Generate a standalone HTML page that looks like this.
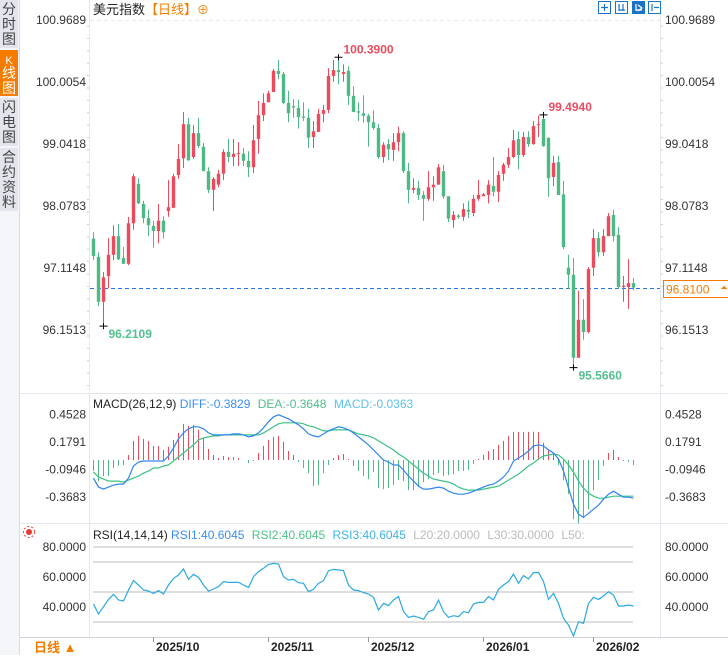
<!DOCTYPE html>
<html><head><meta charset="utf-8"><style>
html,body{margin:0;padding:0;background:#fff;}
body{width:728px;height:655px;overflow:hidden;position:relative;font-family:"Liberation Sans","Noto Sans CJK SC",sans-serif;}
svg text{font-family:"Liberation Sans","Noto Sans CJK SC",sans-serif;}
</style></head><body>
<svg id="chart" width="728" height="655" viewBox="0 0 728 655" xmlns="http://www.w3.org/2000/svg">
<g>
<rect x="0" y="0" width="19" height="655" fill="#f4f5f8"/>
<rect x="0" y="0" width="18" height="48" fill="#e3e5ec"/>
<text x="9" y="14" font-size="14" text-anchor="middle" fill="#444">分</text><text x="9" y="29" font-size="14" text-anchor="middle" fill="#444">时</text><text x="9" y="44" font-size="14" text-anchor="middle" fill="#444">图</text>
<rect x="0" y="50" width="18" height="46" fill="#f57c00"/>
<text x="9" y="64" font-size="11" text-anchor="middle" fill="#fff">K</text><text x="9" y="78" font-size="14" text-anchor="middle" fill="#fff">线</text><text x="9" y="93" font-size="14" text-anchor="middle" fill="#fff">图</text>
<rect x="0" y="98" width="18" height="48" fill="#e3e5ec"/>
<text x="9" y="112" font-size="14" text-anchor="middle" fill="#444">闪</text><text x="9" y="127" font-size="14" text-anchor="middle" fill="#444">电</text><text x="9" y="142" font-size="14" text-anchor="middle" fill="#444">图</text>
<rect x="0" y="148" width="18" height="63" fill="#e3e5ec"/>
<text x="9" y="162" font-size="14" text-anchor="middle" fill="#444">合</text><text x="9" y="177" font-size="14" text-anchor="middle" fill="#444">约</text><text x="9" y="192" font-size="14" text-anchor="middle" fill="#444">资</text><text x="9" y="207" font-size="14" text-anchor="middle" fill="#444">料</text>
<line x1="19.5" y1="0" x2="19.5" y2="655" stroke="#d8dbe2"/>
</g>
<line x1="89.5" y1="0" x2="89.5" y2="637" stroke="#e4e8ee"/>
<line x1="660.5" y1="0" x2="660.5" y2="637" stroke="#e4e8ee"/>
<line x1="90" y1="20.5" x2="660" y2="20.5" stroke="#e4e8ee" stroke-dasharray="4,3"/>
<line x1="20" y1="393.5" x2="728" y2="393.5" stroke="#e4e8ee"/>
<line x1="20" y1="523.5" x2="728" y2="523.5" stroke="#e4e8ee"/>
<line x1="20" y1="637.5" x2="728" y2="637.5" stroke="#d0d4da"/>
<text x="93" y="14" font-size="13" fill="#222">美元指数<tspan fill="#f57c00">【日线】</tspan><tspan fill="#f57c00" font-size="12">⊕</tspan></text>
<g>
<rect x="598.5" y="1.5" width="12" height="12" fill="#fff" stroke="#1a73c8"/>
<rect x="615.5" y="1.5" width="12" height="12" fill="#fff" stroke="#1a73c8"/>
<rect x="632.5" y="1.5" width="12" height="12" fill="#1a73c8" stroke="#1a73c8"/>
<rect x="648.5" y="1.5" width="12" height="12" fill="#fff" stroke="#1a73c8"/>
<path d="M604.5 4v7M601 7.5h7M619 4v7M619 10h6M623 4v7M652 4v7M654 7.5h5" stroke="#1a73c8" stroke-width="1.2" fill="none"/>
<path d="M636 4v7M636 10h6M638 5l4 3-4 3" stroke="#fff" stroke-width="1.2" fill="none"/>
</g>
<g id="axes"></g>
<g id="candles"></g>
<g id="macd"></g>
<g id="rsi"></g>
<g id="xaxis"></g>
<text x="93" y="408" font-size="12" fill="#222">MACD(26,12,9) <tspan fill="#3a8ef0">DIFF:-0.3829</tspan>  <tspan fill="#4cc08a" dx="4">DEA:-0.3648</tspan> <tspan fill="#5bc0eb" dx="4">MACD:-0.0363</tspan></text>
<text x="93" y="539" font-size="12" fill="#222">RSI(14,14,14) <tspan fill="#3a8ef0">RSI1:40.6045</tspan> <tspan fill="#4cc08a" dx="4">RSI2:40.6045</tspan> <tspan fill="#3bb3e6" dx="4">RSI3:40.6045</tspan> <tspan fill="#bbb" dx="4">L20:20.0000</tspan> <tspan fill="#bbb" dx="4">L30:30.0000</tspan> <tspan fill="#bbb" dx="4">L50:</tspan></text>
<g><circle cx="29" cy="532" r="3" fill="#e53935"/><circle cx="29" cy="532" r="5.5" fill="none" stroke="#e53935" stroke-dasharray="2,2"/></g>
<g>
<rect x="20" y="638" width="69" height="17" fill="#fff"/>
<text x="34" y="652" font-size="13" font-weight="bold" fill="#f57c00">日线 ▲</text>
</g>
</svg>
<script>
const opens=[97.57,97.29,96.59,96.99,97.32,97.61,97.27,97.18,97.81,98.42,98.11,97.89,97.77,97.69,97.85,98.00,98.05,98.56,98.82,99.35,98.84,99.21,99.00,98.62,98.33,98.41,98.58,98.92,98.84,98.89,98.89,98.78,98.68,99.12,99.49,99.69,99.85,100.18,100.13,99.68,99.63,99.60,99.47,99.45,99.15,99.23,99.51,99.57,100.10,100.19,100.13,100.18,99.79,99.55,99.52,99.48,99.38,99.29,98.84,99.04,98.95,99.07,99.21,98.62,98.33,98.36,98.25,98.19,98.37,98.41,98.62,98.23,97.86,97.93,97.91,98.02,97.97,98.19,98.23,98.25,98.39,98.30,98.58,98.72,98.84,99.12,98.87,99.15,99.04,99.34,99.43,99.14,98.53,98.76,98.26,97.12,97.01,95.72,96.31,96.12,97.12,97.58,97.36,97.61,97.94,97.63,96.82,96.82,96.88];
const closes=[97.30,96.59,96.97,97.32,97.61,97.25,97.18,97.81,98.54,98.12,97.89,97.78,97.69,97.85,97.67,98.06,98.54,98.81,99.35,98.79,99.21,99.01,98.62,98.33,98.50,98.58,98.92,98.84,98.89,98.90,98.78,98.68,99.10,99.49,99.68,99.83,100.18,100.13,99.68,99.52,99.61,99.46,99.45,99.14,99.24,99.51,99.57,100.10,100.19,100.16,100.16,99.79,99.54,99.53,99.48,99.38,99.29,98.84,99.03,98.96,99.07,99.21,98.62,98.33,98.36,98.25,98.19,98.37,98.41,98.68,98.23,97.88,97.94,97.91,98.03,97.99,98.19,98.25,98.26,98.41,98.30,98.56,98.72,98.84,99.10,98.87,99.15,99.04,99.32,99.35,99.01,98.51,98.75,98.25,97.44,97.01,95.72,96.31,96.12,97.10,97.58,97.36,97.61,97.92,97.61,96.82,96.84,96.88,96.81];
const highs=[97.67,97.36,97.05,97.58,97.78,97.80,97.44,97.91,98.58,98.51,98.16,98.02,97.85,98.11,97.92,98.48,98.58,99.04,99.54,99.45,99.34,99.45,99.06,98.68,98.53,98.64,98.96,99.12,99.12,99.07,98.98,98.93,99.34,99.71,99.83,99.87,100.21,100.35,100.16,99.87,99.74,99.73,99.69,99.59,99.40,99.59,99.65,100.22,100.35,100.39,100.28,100.25,99.94,99.69,99.80,99.51,99.56,99.35,99.07,99.12,99.21,99.31,99.24,98.75,98.51,98.47,98.31,98.62,98.54,98.73,98.72,98.23,98.00,97.95,98.12,98.16,98.25,98.48,98.28,98.48,98.84,98.62,98.75,98.98,99.26,99.24,99.23,99.24,99.40,99.48,99.494,99.14,98.86,98.86,98.47,97.32,97.27,96.76,96.63,97.13,97.72,97.67,97.72,97.97,98.02,97.75,96.99,97.25,96.96];
const lows=[97.24,96.52,96.2109,96.80,97.24,97.24,97.18,97.16,97.71,98.11,97.81,97.61,97.43,97.50,97.57,97.91,98.05,98.50,98.67,98.78,98.81,98.98,98.62,98.28,98.00,98.37,98.48,98.76,98.70,98.70,98.70,98.53,98.59,98.89,99.40,99.69,99.85,100.05,99.66,99.38,99.45,99.28,99.40,98.98,98.98,99.23,99.38,99.52,100.01,99.97,100.01,99.65,99.54,99.40,99.37,99.00,99.26,98.81,98.75,98.79,98.78,98.93,98.59,98.12,98.28,98.17,97.85,98.16,98.16,98.41,98.19,97.83,97.74,97.88,97.85,97.89,97.92,98.16,98.23,98.12,98.23,98.14,98.47,98.67,98.82,98.65,98.84,99.00,99.03,99.15,99.00,98.22,98.39,98.25,97.41,96.79,95.566,95.72,96.00,96.10,96.99,97.29,97.30,97.61,97.53,96.79,96.59,96.48,96.77];
const diffVals=[-0.18,-0.27,-0.29,-0.27,-0.25,-0.24,-0.24,-0.18,-0.06,-0.02,-0.01,-0.01,-0.01,-0.01,-0.01,0.04,0.12,0.21,0.27,0.31,0.33,0.33,0.31,0.27,0.25,0.25,0.25,0.25,0.26,0.26,0.25,0.23,0.24,0.27,0.32,0.38,0.43,0.45,0.43,0.41,0.38,0.35,0.31,0.26,0.24,0.23,0.26,0.29,0.31,0.33,0.32,0.30,0.27,0.23,0.19,0.15,0.10,0.05,0.00,-0.02,-0.05,-0.05,-0.10,-0.16,-0.21,-0.26,-0.29,-0.29,-0.28,-0.27,-0.28,-0.31,-0.33,-0.34,-0.34,-0.33,-0.31,-0.29,-0.27,-0.25,-0.24,-0.21,-0.17,-0.11,-0.01,0.02,0.05,0.09,0.14,0.15,0.14,0.10,0.07,0.01,-0.11,-0.28,-0.44,-0.54,-0.57,-0.53,-0.49,-0.45,-0.39,-0.34,-0.31,-0.34,-0.37,-0.37,-0.38];
const deaVals=[-0.12,-0.17,-0.19,-0.21,-0.21,-0.21,-0.22,-0.20,-0.18,-0.16,-0.13,-0.11,-0.08,-0.08,-0.06,-0.05,-0.01,0.03,0.07,0.11,0.15,0.20,0.22,0.23,0.24,0.24,0.25,0.25,0.25,0.25,0.25,0.25,0.25,0.25,0.27,0.30,0.33,0.36,0.37,0.37,0.37,0.37,0.36,0.34,0.33,0.31,0.29,0.29,0.30,0.30,0.30,0.30,0.28,0.26,0.25,0.24,0.22,0.19,0.16,0.13,0.10,0.06,0.03,-0.01,-0.05,-0.09,-0.13,-0.16,-0.19,-0.20,-0.21,-0.22,-0.24,-0.27,-0.29,-0.30,-0.30,-0.30,-0.29,-0.28,-0.27,-0.26,-0.23,-0.20,-0.17,-0.14,-0.10,-0.06,-0.03,0.01,0.04,0.05,0.06,0.05,0.01,-0.05,-0.12,-0.21,-0.28,-0.33,-0.36,-0.38,-0.38,-0.37,-0.36,-0.36,-0.36,-0.36,-0.36];
const histVals=[-0.11,-0.21,-0.16,-0.16,-0.08,-0.06,-0.05,0.05,0.19,0.24,0.21,0.19,0.14,0.14,0.10,0.13,0.20,0.27,0.36,0.34,0.35,0.30,0.22,0.11,0.05,0.02,0.04,0.03,0.03,0.02,0.00,-0.03,-0.01,0.07,0.14,0.20,0.23,0.24,0.18,0.09,0.05,-0.02,-0.08,-0.13,-0.26,-0.25,-0.13,-0.05,0.02,0.05,0.06,0.01,-0.06,-0.11,-0.16,-0.19,-0.12,-0.28,-0.29,-0.28,-0.25,-0.20,-0.21,-0.30,-0.30,-0.27,-0.22,-0.19,-0.15,-0.13,-0.16,-0.15,-0.14,-0.11,-0.11,-0.10,-0.04,0.01,0.05,0.09,0.11,0.15,0.19,0.24,0.28,0.28,0.28,0.28,0.28,0.28,0.17,0.10,0.06,-0.05,-0.20,-0.34,-0.59,-0.63,-0.58,-0.49,-0.30,-0.20,-0.06,0.07,0.10,0.03,-0.01,-0.02,-0.05];
const rsiVals=[42.0,35.3,40.2,45.1,48.4,44.7,44.0,51.3,57.6,54.7,51.3,50.7,49.1,50.9,48.7,54.7,59.1,61.3,65.3,58.4,61.8,59.8,54.7,50.7,52.0,53.6,56.9,56.4,56.4,56.4,54.7,53.1,60.2,63.6,65.8,68.4,69.1,68.7,60.2,58.0,58.4,56.2,55.8,50.2,51.8,55.8,57.6,64.2,65.1,64.7,64.2,54.7,51.3,50.9,49.6,48.7,46.4,38.0,42.4,40.9,44.7,46.9,36.9,33.1,34.0,33.1,31.8,36.9,38.0,44.7,36.9,33.1,34.2,33.6,36.9,36.2,42.0,43.1,43.1,46.9,44.7,51.8,54.7,56.9,62.0,55.8,60.9,58.7,62.9,63.1,56.9,45.1,49.1,42.4,32.4,28.0,20.7,30.2,29.1,42.4,46.4,45.1,47.3,50.2,48.0,40.7,40.7,41.3,40.7];
const priceTicks=[100.9689,100.0054,99.0418,98.0783,97.1148,96.1513];
const macdTicks=[0.4528,0.1791,-0.0946,-0.3683];
const rsiTicks=[80,60,40];
const rsiGrid=[80,70,50,30];
const monthLabels=["2025/10","2025/11","2025/12","2026/01","2026/02"];
const monthIdx=[12,35,55,78,100];
const lastPrice=96.81;

const NS="http://www.w3.org/2000/svg";
const RED="#ec4b5e",GREEN="#4fb985";
function X(i){return 93+5*i;}
function PY(p){return 20+(100.9689-p)*64.35;}
function MY(v){return 460-v*100.5;}
function RY(v){return 547+(80-v)*1.5;}
function mk(tag,attrs,parent,txt){const e=document.createElementNS(NS,tag);for(const k in attrs)e.setAttribute(k,attrs[k]);if(txt!==undefined)e.textContent=txt;parent.appendChild(e);return e;}

const ax=document.getElementById('axes');
priceTicks.forEach((t,k)=>{
  const y=PY(t);
  let l=mk('text',{x:86,y:y+4,'font-size':12,'text-anchor':'end',fill:'#333'},ax,t.toFixed(4));
  
  
  let r=mk('text',{x:665,y:y+4,'font-size':12,fill:'#333'},ax,t.toFixed(4));
  
  
});
for(let y=26;y<390;y+=12.4){mk('line',{x1:87,x2:89,y1:y,y2:y,stroke:'#ccc'},ax);mk('line',{x1:661,x2:663,y1:y,y2:y,stroke:'#ccc'},ax);}
macdTicks.forEach(t=>{
  const y=MY(t);
  let l=mk('text',{x:86,y:y+4,'font-size':12,'text-anchor':'end',fill:'#333'},ax,t.toFixed(4));
  
  
  let r=mk('text',{x:665,y:y+4,'font-size':12,fill:'#333'},ax,t.toFixed(4));
  
  
});
rsiGrid.forEach(v=>{const g=mk('line',{x1:93,x2:633,y1:RY(v),y2:RY(v),stroke:'#bdbdbd'},ax);
  
  });
rsiTicks.forEach(t=>{
  const y=RY(t);
  let l=mk('text',{x:86,y:y+4,'font-size':12,'text-anchor':'end',fill:'#333'},ax,t.toFixed(4));
  
  
  let r=mk('text',{x:665,y:y+4,'font-size':12,fill:'#333'},ax,t.toFixed(4));
  
  
});

const cg=document.getElementById('candles');
const ly=Math.round(PY(lastPrice))+0.5;
const lp=mk('line',{x1:90,x2:660,y1:ly,y2:ly,stroke:'#1e78e6','stroke-dasharray':'4,3'},cg);


const lb=mk('rect',{x:663.5,y:ly-8,width:70,height:17,fill:'#fff',stroke:'#f57c00'},cg);


mk('text',{x:666,y:ly+5,'font-size':12,fill:'#f57c00'},cg,lastPrice.toFixed(4));
mk('text',{x:724,y:ly+2,'font-size':9,fill:'#f57c00','text-anchor':'middle'},cg,'⏶');

for(let i=0;i<opens.length;i++){
  const up=closes[i]>=opens[i];const col=up?RED:GREEN;const x=X(i);
  const g=mk('g',{},cg);
  
  
  mk('line',{x1:x+0.5,x2:x+0.5,y1:PY(highs[i]),y2:PY(lows[i]),stroke:col},g);
  const t=PY(Math.max(opens[i],closes[i])),b=PY(Math.min(opens[i],closes[i]));
  mk('rect',{x:x-1.2,y:t,width:3.4,height:Math.max(1,b-t),fill:col},g);
}
let hi=0,lo=0;for(let i=0;i<highs.length;i++){if(highs[i]>highs[hi])hi=i;if(lows[i]<lows[lo])lo=i;}
function mark(i,p,label,col,dx,dy){const x=X(i)+0.5,y=PY(p);
  mk('path',{d:`M${x-4} ${y}h8M${x} ${y-3}v6`,stroke:'#000'},cg);
  const t=mk('text',{x:x+dx,y:y+dy,'font-size':12,'font-weight':'bold',fill:col},cg,label);
  
  }
mark(hi,highs[hi],highs[hi].toFixed(4),RED,5,-4);
mark(lo,lows[lo],lows[lo].toFixed(4),'#52c08f',5,12);
let hi2=80;for(let i=80;i<highs.length;i++){if(highs[i]>highs[hi2])hi2=i;}
mark(hi2,highs[hi2],highs[hi2].toFixed(4),RED,5,-4);
let lo2=0;for(let i=0;i<20;i++){if(lows[i]<lows[lo2])lo2=i;}
mark(lo2,lows[lo2],lows[lo2].toFixed(4),'#52c08f',5,12);

const mg=document.getElementById('macd');
for(let i=0;i<histVals.length;i++){
  const v=histVals[i];const b=mk('line',{x1:X(i)+0.5,x2:X(i)+0.5,y1:MY(0),y2:MY(v),stroke:v>=0?RED:GREEN},mg);
  
  
}
function poly(vals,fy,col,name,parent){
  const pts=vals.map((v,i)=>(X(i)+0.5)+','+fy(v).toFixed(1)).join(' ');
  const p=mk('polyline',{points:pts,fill:'none',stroke:col,'stroke-width':1.2},parent);
  
  
}
poly(deaVals,MY,'#3cc283','dea-line',mg);
poly(diffVals,MY,'#2f86f0','diff-line',mg);
poly(rsiVals,RY,'#29a9e0','rsi-line',document.getElementById('rsi'));

const xg=document.getElementById('xaxis');
monthLabels.forEach((m,k)=>{
  const x=X(monthIdx[k]);
  mk('line',{x1:x+0.5,x2:x+0.5,y1:637,y2:642,stroke:'#999'},xg);
  const t=mk('text',{x:x+3,y:651,'font-size':12,'font-weight':'bold',fill:'#222'},xg,m);
  
  
});
</script>
</body></html>
